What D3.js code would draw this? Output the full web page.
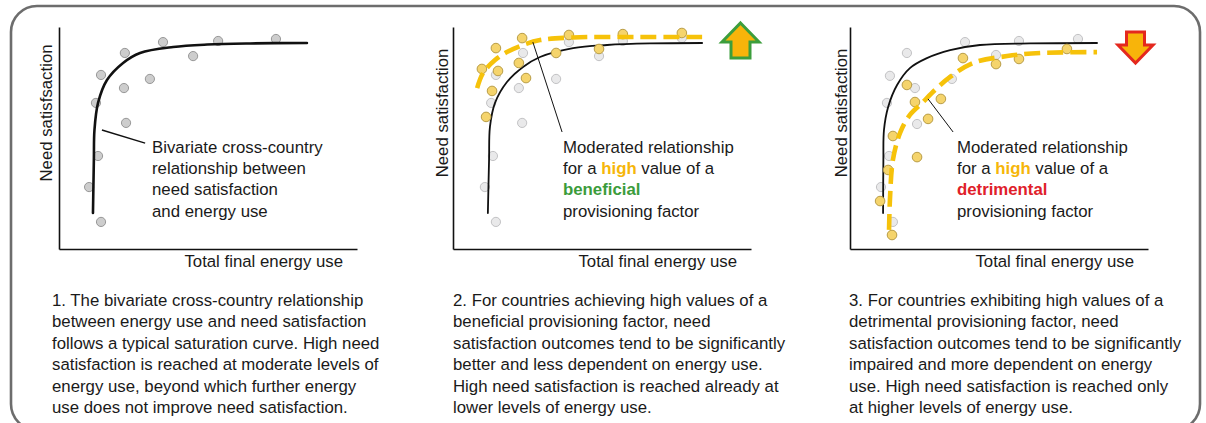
<!DOCTYPE html>
<html>
<head>
<meta charset="utf-8">
<script src="https://cdn.jsdelivr.net/npm/d3@7"></script>
<style>
  html, body { margin: 0; padding: 0; background: #fff; }
  svg { display: block; font-family: Arial, "Liberation Sans", Helvetica, sans-serif; }
</style>
</head>
<body>
<svg id="chart" width="1206" height="423"></svg>
<script>
// ---------- DATA (abstract units: x = energy use 0-100, y = need satisfaction 0-100) ----------
const p1Gray = [[34.9,93.2],[53.4,93.7],[72.8,94.6],[22.1,88.3],[45.0,86.9],[14.1,78.4],[30.5,76.6],[21.8,72.5],[12.4,65.8],[22.5,56.8],[13.1,41.9],[10.1,27.9],[14.1,12.2]];
const p1Curve = [[11.4,16.2],[11.7,40.1],[11.9,53.6],[13.1,65.8],[16.1,76.1],[21.5,83.8],[27.2,88.3],[38.3,91.0],[49.7,92.1],[64.1,92.6],[83.2,92.8]];

const p2Gray = [[38.9,93.2],[57.0,93.7],[76.8,95.0],[23.5,88.3],[49.0,86.9],[14.4,78.4],[34.6,76.6],[22.1,72.5],[12.8,65.8],[23.2,56.8],[13.4,41.9],[10.7,27.9],[14.4,12.2]];
const p2Yellow = [[23.2,95.0],[38.9,96.4],[57.0,96.8],[76.8,97.3],[14.4,90.5],[49.0,90.1],[34.6,88.3],[22.1,83.8],[9.7,81.1],[15.1,80.2],[24.5,77.0],[13.1,71.2],[11.1,59.5]];
const p2Curve = [[11.7,16.2],[12.1,40.1],[12.4,55.0],[14.1,65.8],[18.1,75.2],[23.5,82.0],[29.2,86.5],[40.3,90.5],[51.7,91.9],[66.1,92.6],[83.6,92.8]];
const p2Moderated = [[8.1,72.5],[10.1,79.3],[14.1,85.1],[18.1,88.7],[23.5,91.9],[29.2,94.1],[40.3,95.3],[62.8,95.5],[83.6,95.5]];

const p3Gray = [[38.6,93.2],[56.7,93.7],[76.5,94.6],[19.1,88.3],[49.0,87.4],[13.4,78.0],[34.2,76.6],[21.8,72.5],[12.4,65.8],[22.5,56.3],[13.1,41.9],[10.4,27.9],[14.4,12.2]];
const p3Yellow = [[37.9,86.0],[49.0,83.3],[56.7,85.6],[72.8,90.1],[19.1,73.9],[21.8,66.2],[30.5,67.6],[26.2,58.6],[14.4,50.9],[22.5,41.4],[12.8,35.6],[10.1,21.6],[14.1,6.3]];
const p3Curve = [[11.1,16.2],[11.2,40.1],[11.4,53.6],[12.8,64.0],[15.8,73.9],[20.1,81.5],[25.8,86.0],[33.6,89.6],[43.6,91.9],[60.4,92.6],[82.9,92.8]];
const p3Moderated = [[13.1,8.6],[13.4,22.1],[14.4,40.1],[16.8,52.3],[20.1,60.4],[24.2,65.8],[28.5,71.6],[33.6,77.5],[41.3,83.8],[52.7,86.9],[63.8,88.3],[82.9,88.7]];

// annotation leader lines: [fromX, fromY, toX, toY] in data units
const p1Leader = [14.4, 53.6, 28.9, 47.7];
const p2Leader = [26.8, 93.2, 36.6, 52.7];
const p3Leader = [26.2, 67.6, 34.6, 52.7];

const xLabel = "Total final energy use";
const yLabels = ["Need satisfsaction", "Need satisfaction", "Need satisfaction"];

const p1Note = [[["Bivariate cross-country", ""]], [["relationship between", ""]], [["need satisfaction", ""]], [["and energy use", ""]]];
const p2Note = [[["Moderated relationship", ""]], [["for a ", ""], ["high", "high"], [" value of a", ""]], [["beneficial", "good"]], [["provisioning factor", ""]]];
const p3Note = [[["Moderated relationship", ""]], [["for a ", ""], ["high", "high"], [" value of a", ""]], [["detrimental", "bad"]], [["provisioning factor", ""]]];

const captions1 = ["1. The bivariate cross-country relationship","between energy use and need satisfaction","follows a typical saturation curve. High need","satisfaction is reached at moderate levels of","energy use, beyond which further energy","use does not improve need satisfaction."];
const captions2 = ["2. For countries achieving high values of a","beneficial provisioning factor, need","satisfaction outcomes tend to be significantly","better and less dependent on energy use.","High need satisfaction is reached already at","lower levels of energy use."];
const captions3 = ["3. For countries exhibiting high values of a","detrimental provisioning factor, need","satisfaction outcomes tend to be significantly","impaired and more dependent on energy","use. High need satisfaction is reached only","at higher levels of energy use."];

// ---------- STYLE ----------
const FS = 16.8;
const colors = { high: "#f6b60a", good: "#3b9c3b", bad: "#e0202a", dash: "#f6c20a" };
const svg = d3.select("#chart");

// frame
svg.append("rect").attr("x", 11).attr("y", 6).attr("width", 1189).attr("height", 424)
  .attr("rx", 26).attr("ry", 26).attr("fill", "#fff").attr("stroke", "#6d6d6d").attr("stroke-width", 2.6);

const panels = [
  { ax: 59,  gray: p1Gray, grayStyle: "dark", yellow: null, curve: p1Curve, curveW: 2.6, mod: null, leader: p1Leader, note: p1Note, noteX: 152, cap: captions1, capX: 52, yl: yLabels[0], ylX: 52, arrow: null },
  { ax: 453, gray: p2Gray, grayStyle: "light", yellow: p2Yellow, curve: p2Curve, curveW: 1.8, mod: p2Moderated, leader: p2Leader, note: p2Note, noteX: 563, cap: captions2, capX: 453, yl: yLabels[1], ylX: 448, arrow: "up" },
  { ax: 850, gray: p3Gray, grayStyle: "light", yellow: p3Yellow, curve: p3Curve, curveW: 1.8, mod: p3Moderated, leader: p3Leader, note: p3Note, noteX: 957, cap: captions3, capX: 849, yl: yLabels[2], ylX: 847, arrow: "down" }
];

const W = 298, Y0 = 249, Y1 = 27;

panels.forEach(p => {
  const g = svg.append("g");
  const x = d3.scaleLinear().domain([0, 100]).range([p.ax, p.ax + W]);
  const y = d3.scaleLinear().domain([0, 100]).range([Y0, Y1]);

  // axes (domain lines only)
  g.append("g").attr("transform", `translate(0,${Y0})`)
    .call(d3.axisBottom(x).ticks(0).tickSizeOuter(0))
    .call(a => a.select(".domain").attr("stroke", "#111").attr("stroke-width", 1.6));
  g.append("g").attr("transform", `translate(${p.ax},0)`)
    .call(d3.axisLeft(y).ticks(0).tickSizeOuter(0))
    .call(a => a.select(".domain").attr("stroke", "#111").attr("stroke-width", 1.6));

  // axis labels
  g.append("text").attr("x", p.ax + W - 14).attr("y", 267).attr("text-anchor", "end")
    .attr("font-size", FS).attr("fill", "#1a1a1a").text(xLabel);
  g.append("text").attr("transform", `translate(${p.ylX},${(Y0 + Y1) / 2 - 25}) rotate(-90)`)
    .attr("text-anchor", "middle").attr("font-size", FS).attr("fill", "#1a1a1a").text(p.yl);

  const line = d3.line().x(d => x(d[0])).y(d => y(d[1])).curve(d3.curveCatmullRom.alpha(0.5));

  // gray points
  const dark = p.grayStyle === "dark";
  g.selectAll(".gp").data(p.gray).enter().append("circle")
    .attr("cx", d => x(d[0])).attr("cy", d => y(d[1])).attr("r", 4.6)
    .attr("fill", dark ? "#cdcdcd" : "#e9e9ea").attr("stroke", dark ? "#979797" : "#c2c2c4").attr("stroke-width", 1);

  // black curve
  g.append("path").datum(p.curve).attr("d", line).attr("fill", "none")
    .attr("stroke", "#111").attr("stroke-width", p.curveW).attr("stroke-linecap", "round");

  // yellow points
  if (p.yellow) {
    g.selectAll(".yp").data(p.yellow).enter().append("circle")
      .attr("cx", d => x(d[0])).attr("cy", d => y(d[1])).attr("r", 4.8)
      .attr("fill", "#f5d46c").attr("stroke", "#b89c45").attr("stroke-width", 1);
  }
  // moderated dashed curve
  if (p.mod) {
    g.append("path").datum(p.mod).attr("d", line).attr("fill", "none")
      .attr("stroke", colors.dash).attr("stroke-width", 4.6).attr("stroke-dasharray", "16,7");
  }

  // leader line
  g.append("line").attr("x1", x(p.leader[0])).attr("y1", y(p.leader[1]))
    .attr("x2", x(p.leader[2])).attr("y2", y(p.leader[3]))
    .attr("stroke", "#111").attr("stroke-width", dark ? 1.4 : 1);

  // annotation text
  p.note.forEach((parts, i) => {
    const t = g.append("text").attr("x", p.noteX).attr("y", 153 + i * 21.2)
      .attr("font-size", FS).attr("fill", "#1a1a1a");
    parts.forEach(([s, k]) => {
      const ts = t.append("tspan").text(s);
      if (k) ts.attr("font-weight", "bold").attr("fill", colors[k]);
    });
  });

  // captions
  p.cap.forEach((s, i) => {
    g.append("text").attr("x", p.capX).attr("y", 306 + i * 21.4)
      .attr("font-size", FS).attr("fill", "#1a1a1a").text(s);
  });

  // arrows
  if (p.arrow === "up") {
    const cx = p.ax + 287.5, top = 23;
    const pts = [[cx, top], [cx + 18.5, top + 19], [cx + 9.5, top + 19], [cx + 9.5, top + 35], [cx - 9.5, top + 35], [cx - 9.5, top + 19], [cx - 18.5, top + 19]];
    g.append("path").attr("d", d3.line()(pts) + "Z").attr("fill", "#f8b40a")
      .attr("stroke", "#3c9e3c").attr("stroke-width", 3).attr("stroke-linejoin", "miter");
  } else if (p.arrow === "down") {
    const cx = p.ax + 285.5, top = 32;
    const pts = [[cx - 9, top], [cx + 9, top], [cx + 9, top + 13], [cx + 17.5, top + 13], [cx, top + 31], [cx - 17.5, top + 13], [cx - 9, top + 13]];
    g.append("path").attr("d", d3.line()(pts) + "Z").attr("fill", "#f8b40a")
      .attr("stroke", "#e4281e").attr("stroke-width", 3).attr("stroke-linejoin", "miter");
  }
});
</script>
</body>
</html>
